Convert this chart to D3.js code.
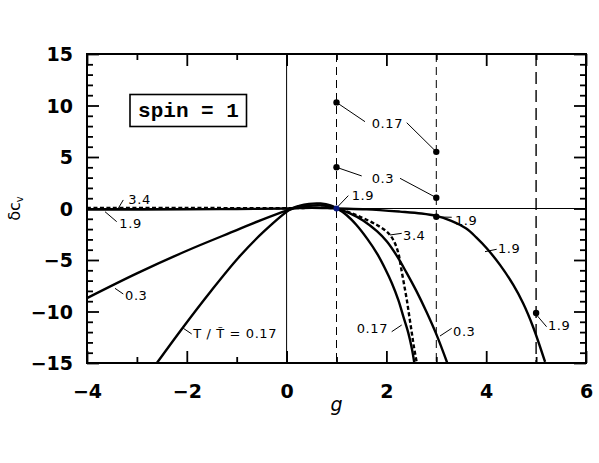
<!DOCTYPE html>
<html>
<head>
<meta charset="utf-8">
<script src="https://cdn.jsdelivr.net/npm/d3@7"></script>
<style>
  html, body { margin: 0; padding: 0; background: #fff; }
  svg { display: block; }
</style>
</head>
<body>
<svg id="chart" width="599" height="463"></svg>
<script>
// ---------------- DATA ----------------
const xTickLabels = [-4, -2, 0, 2, 4, 6];
const yTickLabels = [-15, -10, -5, 0, 5, 10, 15];

// T/T~ = 0.17
const curve017G = [-2.6, -2.07, -1.53, -0.97, -0.47, 0.07, 0.25, 0.45, 0.68, 0.88, 1.0, 1.2, 1.4, 1.61, 1.81, 1.97, 2.11, 2.24, 2.34, 2.44, 2.51, 2.56];
const curve017Y = [-15, -11.5, -8.1, -4.8, -2.3, -0.1, 0.25, 0.45, 0.48, 0.3, 0.02, -0.63, -1.6, -2.9, -4.35, -5.8, -7.26, -8.9, -10.5, -12.1, -13.6, -15];
// T/T~ = 0.3
const curve03G = [-4, -3, -2, -1, -0.5, 0.0, 0.2, 0.45, 0.7, 0.9, 1.0, 1.27, 1.54, 1.81, 2.01, 2.21, 2.4, 2.6, 2.8, 3.0, 3.22];
const curve03Y = [-8.7, -6.3, -4.1, -2.1, -1.1, -0.2, 0.08, 0.27, 0.3, 0.15, 0.02, -0.47, -1.18, -2.2, -3.2, -4.6, -6.2, -8.0, -10.0, -12.2, -15.0];
// T/T~ = 1.9
const curve19G = [-4, -2, -1, 0, 0.5, 1.0, 1.6, 2.27, 2.7, 3.0, 3.3, 3.6, 3.8, 4.01, 4.28, 4.54, 4.74, 4.94, 5.18];
const curve19Y = [-0.1, -0.08, -0.05, 0.0, 0.08, 0.0, -0.08, -0.3, -0.48, -0.72, -1.2, -1.95, -2.8, -3.86, -5.5, -7.4, -9.2, -11.5, -14.9];
// T/T~ = 3.4 (dashed)
const curve34G = [-4, -2, 0, 0.5, 1.0, 1.27, 1.54, 1.81, 2.01, 2.14, 2.24, 2.29, 2.35, 2.41, 2.46, 2.51, 2.55, 2.61];
const curve34Y = [0.05, 0.05, 0.03, 0.06, 0.0, -0.4, -0.95, -1.6, -2.25, -3.06, -4.35, -5.65, -7.26, -8.9, -10.5, -12.1, -13.4, -15];

// marked points
const dotG = [1, 3, 1, 3, 3, 5];
const dotY = [10.3, 5.5, 4.0, 1.05, -0.8, -10.15];
const specialDotG = [1];
const specialDotY = [0];

// vertical reference lines
const dashedLinesG = [1, 3, 5];

// curve labels
const labelTexts = ["0.17", "0.3", "1.9", "1.9", "3.4", "0.17", "0.3", "1.9", "1.9", "3.4", "1.9", "0.3", "T / T\u0303 = 0.17"];

// ---------------- LAYOUT ----------------
const svg = d3.select("#chart");
const L = 87, R = 586, T = 54, B = 363;
const x = d3.scaleLinear().domain([-4, 6]).range([L, R]);
const y = d3.scaleLinear().domain([-15, 15]).range([B, T]);

// label layout (data coordinates): text left/center, leader from -> to
const labelLayout = [
  {tx: 1.705, ty: 8.3, leaders: [[1, 10.3, 1.571, 8.43], [2.407, 8.33, 3, 5.5]]},
  {tx: 1.705, ty: 2.96, leaders: [[1, 4.0, 1.505, 3.16], [2.273, 2.93, 3, 1.05]]},
  {tx: 1.305, ty: 1.31, leaders: [[1.0, 0.05, 1.237, 1.25]]},
  {tx: 3.375, ty: -1.12, leaders: [[3.0, -0.82, 3.309, -0.85]]},
  {tx: 2.333, ty: -2.57, leaders: [[2.072, -2.57, 2.307, -2.41]]},
  {tx: 1.405, ty: -11.63, leaders: [[2.106, -11.96, 2.307, -11.31]]},
  {tx: 3.335, ty: -11.96, leaders: [[3.074, -12.38, 3.309, -11.63]]},
  {tx: 4.236, ty: -3.86, leaders: [[3.976, -4.19, 4.21, -3.96]]},
  {tx: 5.238, ty: -11.31, leaders: [[5.01, -10.34, 5.21, -11.48]]},
  {tx: -3.172, ty: 0.89, leaders: [[-3.373, 0.02, -3.273, 0.83]]},
  {tx: -3.353, ty: -1.44, leaders: [[-3.639, -0.31, -3.405, -1.28]]},
  {tx: -3.238, ty: -8.4, leaders: [[-3.439, -7.75, -3.273, -8.3]]},
  {tx: -1.87, ty: -12.12, leaders: [[-2.07, -11.63, -1.902, -12.18]]}
];

svg.append("defs").append("clipPath").attr("id", "clip")
  .append("rect").attr("x", L).attr("y", T).attr("width", R - L).attr("height", B - T);

// reference lines
svg.append("line").attr("x1", L).attr("x2", R).attr("y1", y(0)).attr("y2", y(0))
  .attr("stroke", "#000").attr("stroke-width", 1);
svg.append("line").attr("x1", x(0)).attr("x2", x(0)).attr("y1", T).attr("y2", B)
  .attr("stroke", "#000").attr("stroke-width", 1);
svg.selectAll(".vdash").data(dashedLinesG).enter().append("line")
  .attr("x1", d => x(d)).attr("x2", d => x(d)).attr("y1", T).attr("y2", B)
  .attr("stroke", "#000")
  .attr("stroke-width", d => d === 5 ? 1.4 : 1)
  .attr("stroke-dasharray", d => d === 5 ? "12,6" : "8,5");

// curves
const line = d3.line().x(d => x(d[0])).y(d => y(d[1])).curve(d3.curveCatmullRom.alpha(0.5));
const zip = (a, b) => a.map((v, i) => [v, b[i]]);
const curves = [
  {pts: zip(curve017G, curve017Y), dash: null},
  {pts: zip(curve03G, curve03Y), dash: null},
  {pts: zip(curve19G, curve19Y), dash: null},
  {pts: zip(curve34G, curve34Y), dash: "4,2.5"}
];
const cg = svg.append("g").attr("clip-path", "url(#clip)");
curves.forEach(c => {
  cg.append("path").attr("d", line(c.pts)).attr("fill", "none")
    .attr("stroke", "#000").attr("stroke-width", 2.4)
    .attr("stroke-dasharray", c.dash);
});

// leaders and labels
const lg = svg.append("g");
labelLayout.forEach((l, i) => {
  l.leaders.forEach(s => {
    lg.append("line").attr("x1", x(s[0])).attr("y1", y(s[1]))
      .attr("x2", x(s[2])).attr("y2", y(s[3]))
      .attr("stroke", "#000").attr("stroke-width", 1);
  });
  lg.append("text").attr("x", x(l.tx)).attr("y", y(l.ty) + 4.8)
    .attr("font-family", "DejaVu Sans, Verdana, sans-serif")
    .attr("font-size", 13).attr("letter-spacing", 0.6)
    .attr("fill", "#000").text(labelTexts[i]);
});

// dots
svg.selectAll(".dot").data(zip(dotG, dotY)).enter().append("circle")
  .attr("cx", d => x(d[0])).attr("cy", d => y(d[1])).attr("r", 3.2).attr("fill", "#000");
svg.selectAll(".sdot").data(zip(specialDotG, specialDotY)).enter().append("circle")
  .attr("cx", d => x(d[0])).attr("cy", d => y(d[1])).attr("r", 3).attr("fill", "#0a1a80");

// axes
const majorX = d3.range(-4, 6.01, 2), minorX = d3.range(-3, 6, 2);
const majorY = d3.range(-15, 15.01, 5), minorY = d3.range(-15, 15.01, 1).filter(v => v % 5 !== 0);
const fmt = v => (v < 0 ? "\u2212" + Math.abs(v) : String(v));

function addAxis(axisFn, scale, major, minor, transform, labels) {
  const gMaj = svg.append("g").attr("transform", transform)
    .call(axisFn(scale).tickValues(major).tickSizeInner(-12).tickSizeOuter(0)
      .tickFormat(labels ? fmt : () => ""));
  const gMin = svg.append("g").attr("transform", transform)
    .call(axisFn(scale).tickValues(minor).tickSizeInner(-6).tickSizeOuter(0).tickFormat(() => ""));
  [gMaj, gMin].forEach(g => {
    g.select(".domain").remove();
    g.selectAll(".tick line").attr("stroke", "#000").attr("stroke-width", 1.8);
  });
  return gMaj;
}
const gx = addAxis(d3.axisBottom, x, majorX, minorX, `translate(0,${B})`, true);
gx.selectAll(".tick text").attr("y", 35).attr("dy", null);
addAxis(d3.axisTop, x, majorX, minorX, `translate(0,${T})`, false);
const gy = addAxis(d3.axisLeft, y, majorY, minorY, `translate(${L},0)`, true);
gy.selectAll(".tick text").attr("x", -14).attr("dy", "0.36em");
addAxis(d3.axisRight, y, majorY, minorY, `translate(${R},0)`, false);

svg.selectAll(".tick text")
  .attr("font-family", "DejaVu Sans, Verdana, sans-serif")
  .attr("font-size", 19).attr("font-weight", "bold").attr("fill", "#000");

// frame
svg.append("rect").attr("x", L).attr("y", T).attr("width", R - L).attr("height", B - T)
  .attr("fill", "none").attr("stroke", "#000").attr("stroke-width", 2);

// axis titles
svg.append("text").attr("x", (L + R) / 2).attr("y", 410.5).attr("text-anchor", "middle")
  .attr("font-family", "DejaVu Sans, Verdana, sans-serif").attr("font-style", "italic")
  .attr("font-size", 19).text("g");
const yt = svg.append("text").attr("transform", `translate(20,${y(0)}) rotate(-90)`)
  .attr("text-anchor", "middle")
  .attr("font-family", "DejaVu Sans, Verdana, sans-serif").attr("font-size", 16);
yt.append("tspan").text("\u03b4c");
yt.append("tspan").attr("font-size", 10).attr("dy", 3).text("v");

// legend box
svg.append("rect").attr("x", 130).attr("y", 94.5).attr("width", 116.5).attr("height", 32)
  .attr("fill", "#fff").attr("stroke", "#000").attr("stroke-width", 1.6);
svg.append("text").attr("x", 188.5).attr("y", 117).attr("text-anchor", "middle")
  .attr("font-family", "Liberation Mono, Courier New, monospace").attr("font-weight", "bold")
  .attr("font-size", 21).attr("xml:space", "preserve").text("spin = 1");
</script>
</body>
</html>
